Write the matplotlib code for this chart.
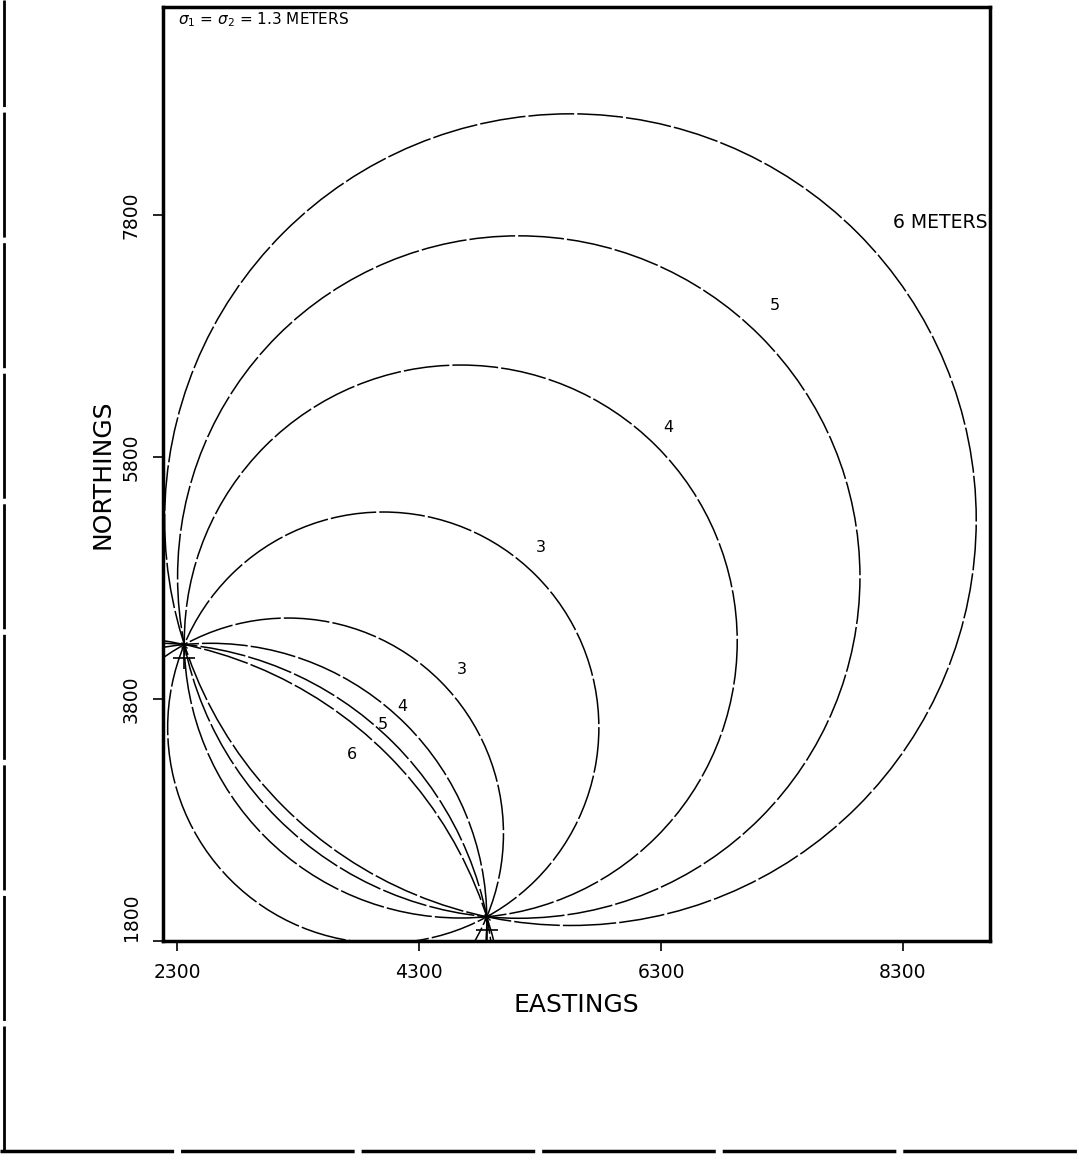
import numpy as np
import matplotlib
matplotlib.use("Agg")
import matplotlib.pyplot as plt
from matplotlib.patches import Circle
from matplotlib.lines import Line2D

# the two stations (eastings, northings) where every contour meets
stn_e = [2360, 4860]
stn_n = [4250, 2000]
mark_n = [4135, 1890]   # "+" marks drawn just below the stations

# error contours (meters) and the radius of each circle
err_m = [3, 4, 5, 6]
radius = [1782, 2285, 2820, 3354]

# contour labels on the big circles
outer_lbl = ["3", "4", "5", "6 METERS"]
outer_e = [5308, 6358, 7242, 8217]
outer_n = [5056, 6040, 7056, 7742]
# contour labels inside the lens between the stations
inner_lbl = ["3", "4", "5", "6"]
inner_e = [4655, 4160, 4002, 3746]
inner_n = [4040, 3734, 3585, 3337]

xticks = [2300, 4300, 6300, 8300]
yticks = [1800, 3800, 5800, 7800]

fig = plt.figure(figsize=(10.79, 11.65), dpi=100)
ax = fig.add_axes([0.1511, 0.1923, 0.7664, 0.8017])

A = np.array([stn_e[0], stn_n[0]], dtype=float)
B = np.array([stn_e[1], stn_n[1]], dtype=float)
mid = (A + B) / 2
d = B - A
L = np.hypot(*d)
nrm = np.array([-d[1], d[0]]) / L

# each error value gives two circles through both stations, mirrored on the baseline
for R in radius:
    h = np.sqrt(R**2 - (L / 2) ** 2)
    for sgn in (1, -1):
        c = Circle(mid + sgn * h * nrm, R, fill=False, ec="black",
                   lw=1.1, ls=(0, (30, 2)))
        ax.add_patch(c)

ax.plot(stn_e, mark_n, "k+", ms=16, mew=1.2)
ax.plot(stn_e, stn_n, "kx", ms=5, mew=1.0)

for t, x, y in zip(outer_lbl, outer_e, outer_n):
    if len(t) > 1:
        ax.text(x, y, t, fontsize=13.5, ha="left", va="center")
    else:
        ax.text(x, y, t, fontsize=11.5, ha="center", va="center")
for t, x, y in zip(inner_lbl, inner_e, inner_n):
    ax.text(x, y, t, fontsize=11.5, ha="center", va="center")

ax.text(0.018, 0.986, r"$\sigma_1$ = $\sigma_2$ = 1.3 METERS", transform=ax.transAxes,
        fontsize=11, ha="left", va="center")

ax.set_xlim(2184, 9019)
ax.set_ylim(1800, 9519)
ax.set_xticks(xticks)
ax.set_xticklabels([str(v) for v in xticks])
ax.set_yticks(yticks)
ax.set_yticklabels([str(v) for v in yticks], rotation=90, va="center")
ax.get_yticklabels()[0].set_va("bottom")
ax.tick_params(direction="out", length=7, width=1.2, labelsize=13.5, pad=9)
for s in ax.spines.values():
    s.set_linewidth(2.5)

ax.set_xlabel("EASTINGS", fontsize=18, labelpad=8)
ax.set_ylabel("NORTHINGS", fontsize=18, labelpad=5)

# page border from the scan
fig.add_artist(Line2D([0.004, 0.004], [0.012, 1.0], color="black", lw=2, ls=(0, (45, 2))))
fig.add_artist(Line2D([0.0, 1.0], [0.012, 0.012], color="black", lw=2.5, ls=(0, (50, 2))))

fig.savefig("out.png", dpi=100)
